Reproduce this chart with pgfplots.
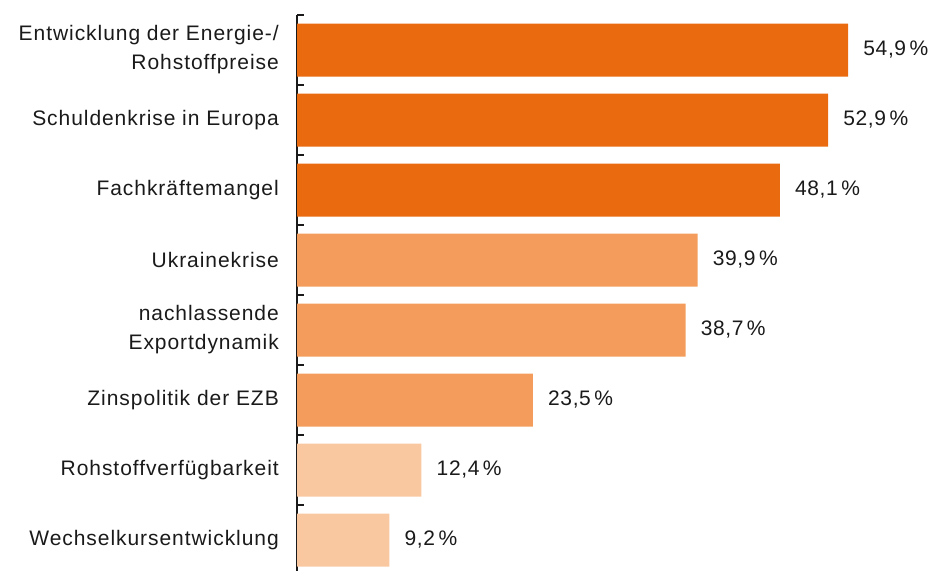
\documentclass[border=0pt]{standalone}
\usepackage{fontspec}
\setmainfont{Liberation Sans}
\newfontfamily\lblfont[LetterSpace=4.5]{Liberation Sans}
\newfontfamily\numfont[LetterSpace=3]{Liberation Sans}
\usepackage{pgfplots}
\pgfplotsset{compat=1.18}
\definecolor{cdark}{HTML}{EA6A10}
\definecolor{cmid}{HTML}{F39C5B}
\definecolor{clight}{HTML}{F9C8A0}
\definecolor{ctext}{HTML}{1A1A1A}
\begin{document}
\begin{tikzpicture}[x=1pt,y=1pt]
\useasboundingbox (0,0) rectangle (931,571);
\begin{axis}[
  at={(297pt,0pt)}, anchor=south west,
  scale only axis, width=602.4pt, height=556pt,
  xmin=0, xmax=60, ymin=-0.5, ymax=7.443, y dir=reverse,
  axis x line=none, axis y line*=left,
  axis line style={line width=1.5pt, color=ctext, -},
  ytick={0,...,7},
  yticklabels={{Entwicklung der Energie-/\\Rohstoffpreise},
    {Schuldenkrise in Europa},{Fachkräftemangel},{Ukrainekrise},
    {nachlassende\\Exportdynamik},{Zinspolitik der EZB},
    {Rohstoffverfügbarkeit},{Wechselkursentwicklung}},
  major tick length=0pt,
  minor ytick={-0.5,0.5,...,6.5},
  minor tick length=7pt,
  tick align=inside,
  ytick pos=left,
  every tick/.style={line width=1.5pt, color=ctext},
  yticklabel style={align=right, inner sep=0pt, xshift=-18pt,
    font=\lblfont\fontsize{21}{29}\selectfont, text=ctext},
  /pgf/number format/assume math mode=true,
  point meta=x,
  nodes near coords={\pgfmathprintnumber[fixed,fixed zerofill,precision=1,use comma]{\pgfplotspointmeta}\,\%},
  every node near coord/.append style={anchor=west, inner sep=0pt, xshift=15pt,
    font=\numfont\fontsize{21}{24}\selectfont, text=ctext},
  clip=false,
]
\addplot[xbar, bar shift=0pt, bar width=53pt, fill=cdark, draw=none]
  coordinates {(54.9,0) (52.9,1) (48.1,2)};
\addplot[xbar, bar shift=0pt, bar width=53pt, fill=cmid, draw=none]
  coordinates {(39.9,3) (38.7,4) (23.5,5)};
\addplot[xbar, bar shift=0pt, bar width=53pt, fill=clight, draw=none]
  coordinates {(12.4,6) (9.2,7)};
\end{axis}
\end{tikzpicture}
\end{document}
